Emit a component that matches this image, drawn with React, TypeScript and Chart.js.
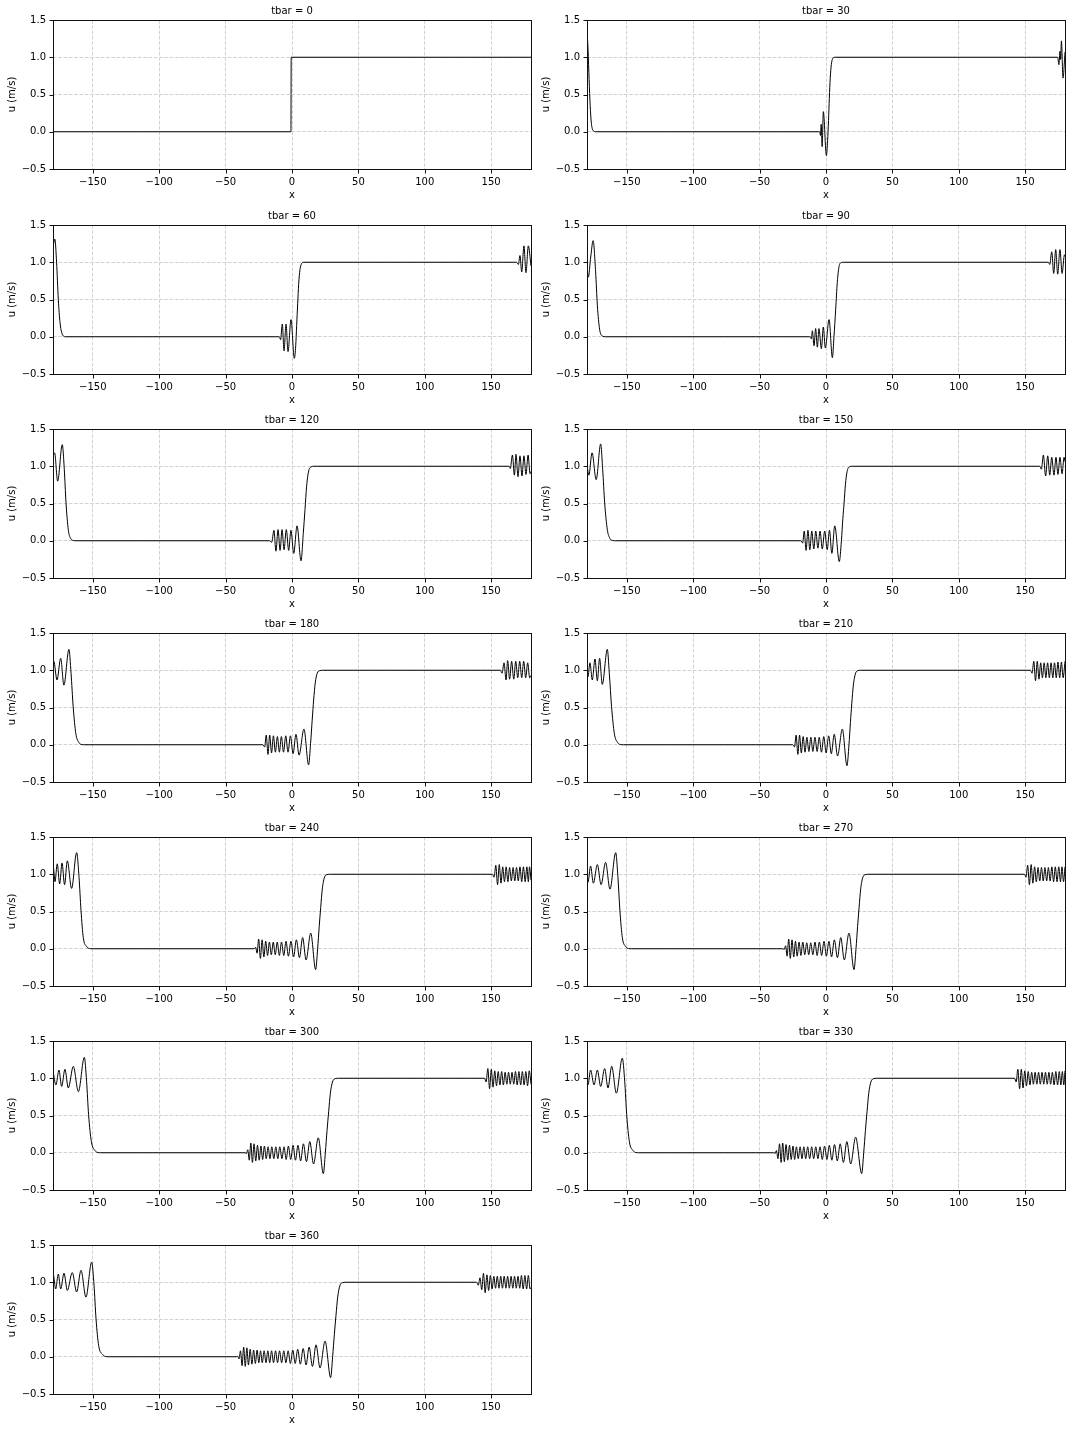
import React, { useEffect, useRef } from "react";
import { Chart, registerables } from "chart.js";

Chart.register(...registerables);

// ---- data ----
const TBARS = [0, 30, 60, 90, 120, 150, 180, 210, 240, 270, 300, 330, 360];
const X_TICKS = [-150, -100, -50, 0, 50, 100, 150];
const Y_TICKS = [-0.5, 0, 0.5, 1, 1.5];
const X_LABEL = "x";
const Y_LABEL = "u (m/s)";

const S000: number[][] = [[-180, 0], [-0.8, 0], [-0.6, 1], [180, 1]];

const S030: number[][] = [
  [-180, 1.36], [-179.2, 1.1], [-178.4, 0.7], [-177.6, 0.35], [-176.8, 0.13], [-176, 0.04], [-175, 0.01], [-173.5, 0],
  [-5.6, 0], [-4.7, 0], [-4.2, -0.05], [-3.6, 0.1], [-2.9, -0.2], [-2.0, 0.27], [0.3, -0.32], [1.2, -0.12], [1.9, 0.15],
  [2.5, 0.45], [3.2, 0.72], [4.0, 0.9], [5.0, 0.98], [6.5, 1],
  [174.5, 1], [175.4, 0.9], [176.2, 1.08], [176.7, 0.97], [177.3, 1.22], [178.5, 0.72], [180, 1.07],
];

const S060: number[][] = [
  [-180, 1.2], [-178.6, 1.31], [-177.3, 1.0], [-176, 0.5], [-174.7, 0.19], [-173.5, 0.06], [-172.2, 0.01], [-170.5, 0],
  [-10, 0], [-9.5, 0], [-8.6, -0.04], [-7.3, 0.17], [-6.0, -0.19], [-4.5, 0.17], [-3.0, -0.2], [-0.75, 0.23], [1.75, -0.29],
  [2.8, -0.12], [3.5, 0.15], [4.3, 0.45], [5.0, 0.7], [6.0, 0.9], [7.2, 0.98], [8.5, 1],
  [169, 1], [170.5, 0.97], [171.7, 1.09], [173.0, 0.87], [174.7, 1.22], [176.2, 0.86], [178.0, 1.22], [180, 0.95],
];

const S090: number[][] = [
  [-180, 0.95], [-179, 0.8], [-177.2, 1.07], [-175.4, 1.29], [-173.5, 0.87], [-172.2, 0.42], [-170.5, 0.1], [-168.5, 0.01], [-166, 0],
  [-12.5, 0], [-11.8, 0], [-11, -0.03], [-10.3, 0.08], [-9.0, -0.12], [-7.8, 0.11], [-6.5, -0.14], [-5.3, 0.11], [-3.5, -0.16],
  [-2.0, 0.13], [-0.5, -0.15], [2.3, 0.23], [4.8, -0.28], [6.0, 0.0], [7.3, 0.37], [8.5, 0.73], [9.8, 0.94], [11.5, 0.995], [13.5, 1],
  [167.5, 1], [168.5, 0.97], [170, 1.14], [171.5, 0.85], [173, 1.17], [174.5, 0.84], [176.2, 1.17], [177.8, 0.85], [179.6, 1.1], [180, 1.08],
];

const S120: number[][] = [
  [-180, 1.12], [-178.8, 1.18], [-176.5, 0.8], [-173, 1.29], [-171.5, 0.96], [-170.2, 0.51], [-168.5, 0.15], [-166.7, 0.03], [-164.5, 0.003], [-162.5, 0],
  [-17, 0], [-15.3, -0.02], [-13.6, 0.14], [-12.1, -0.14], [-10.5, 0.15], [-9.0, -0.13], [-7.5, 0.15], [-6.0, -0.12], [-4.3, 0.15],
  [-2.5, -0.13], [-0.8, 0.14], [1.3, -0.17], [3.8, 0.2], [6.8, -0.27], [8.5, 0.1], [9.8, 0.42], [11.0, 0.73], [12.6, 0.94], [14.3, 0.99], [16.5, 1],
  [163.5, 1], [164.4, 0.97], [166, 1.15], [167.5, 0.88], [168.7, 1.16], [170.2, 0.86], [171.7, 1.14], [173.2, 0.87], [174.7, 1.14],
  [176.2, 0.89], [177.8, 1.15], [179.3, 0.9], [180, 0.93],
];

const S150: number[][] = [
  [-180, 1.02], [-178.6, 0.88], [-176.2, 1.18], [-173.1, 0.82], [-169.7, 1.3], [-168.2, 0.96], [-166.7, 0.51], [-164.7, 0.15], [-162.7, 0.03], [-160.5, 0.003], [-158.5, 0],
  [-19, 0], [-17.6, -0.03], [-16.4, 0.13], [-15.0, -0.13], [-13.6, 0.14], [-12.2, -0.12], [-10.7, 0.13], [-9.2, -0.11], [-7.7, 0.13],
  [-6.1, -0.1], [-4.5, 0.13], [-2.8, -0.11], [-1.0, 0.13], [0.9, -0.12], [2.6, 0.14], [4.4, -0.17], [6.6, 0.2], [10.0, -0.28],
  [11.6, 0.0], [12.7, 0.3], [13.6, 0.5], [14.6, 0.75], [15.9, 0.93], [17.5, 0.99], [19.8, 1],
  [161, 1], [162.2, 0.96], [163.7, 1.15], [165.4, 0.87], [167, 1.14], [168.5, 0.88], [170, 1.12], [171.7, 0.88], [173.2, 1.12],
  [174.7, 0.89], [176.2, 1.12], [177.8, 0.9], [179.3, 1.12], [180, 1.06],
];

const S180: number[][] = [
  [-180, 1.1], [-179.4, 1.12], [-177, 0.87], [-174.2, 1.16], [-171.8, 0.8], [-168, 1.28], [-166.4, 0.96], [-164.8, 0.51], [-162.8, 0.15], [-160.5, 0.03], [-158.3, 0.003], [-156, 0],
  [-22, 0], [-20.6, -0.03], [-19.4, 0.13], [-18.1, -0.13], [-16.8, 0.13], [-15.4, -0.11], [-14.0, 0.12], [-12.5, -0.1], [-11.0, 0.11],
  [-9.5, -0.1], [-8.0, 0.11], [-6.4, -0.1], [-4.7, 0.12], [-3.0, -0.1], [-1.2, 0.12], [0.8, -0.12], [3.0, 0.14], [5.3, -0.14],
  [9.0, 0.21], [12.5, -0.27], [14.0, 0.02], [15.2, 0.33], [16.3, 0.6], [17.5, 0.83], [19.0, 0.96], [21.0, 0.995], [23.5, 1],
  [157, 1], [158.2, 0.96], [159.7, 1.1], [161.2, 0.87], [162.4, 1.13], [163.9, 0.88], [165.4, 1.12], [167, 0.88], [168.5, 1.12],
  [170, 0.9], [171.5, 1.12], [173, 0.9], [174.5, 1.12], [176, 0.9], [177.5, 1.1], [179, 0.9], [180, 0.93],
];

const S210: number[][] = [
  [-180, 0.95], [-179.3, 0.91], [-177.8, 1.1], [-176, 0.87], [-174, 1.15], [-172.2, 0.86], [-170.5, 1.16], [-168.5, 0.81], [-164.7, 1.28],
  [-163.2, 0.96], [-161.5, 0.51], [-159.4, 0.15], [-157, 0.03], [-154.8, 0.003], [-152.5, 0],
  [-25, 0], [-23.7, -0.03], [-22.5, 0.13], [-21.2, -0.13], [-19.9, 0.13], [-18.6, -0.11], [-17.2, 0.11], [-15.8, -0.1], [-14.4, 0.1],
  [-12.9, -0.09], [-11.4, 0.1], [-9.9, -0.09], [-8.3, 0.1], [-6.7, -0.09], [-5.1, 0.1], [-3.4, -0.1], [-1.7, 0.11], [0.1, -0.11],
  [2.0, 0.12], [4.0, -0.12], [6.2, 0.14], [8.7, -0.15], [12.3, 0.21], [15.8, -0.28], [17.3, 0.0], [18.4, 0.3], [19.4, 0.55],
  [20.6, 0.8], [22.1, 0.95], [24.0, 0.995], [26.5, 1],
  [154, 1], [155.2, 0.96], [156.5, 1.12], [157.8, 0.86], [159.1, 1.12], [160.4, 0.88], [161.7, 1.1], [163.0, 0.9], [164.3, 1.1],
  [165.6, 0.9], [166.9, 1.1], [168.2, 0.9], [169.5, 1.1], [170.8, 0.9], [172.1, 1.1], [173.4, 0.9], [174.7, 1.11], [176.0, 0.9],
  [177.3, 1.11], [178.6, 0.9], [180, 1.12],
];

const S240: number[][] = [
  [-180, 1.09], [-179.8, 1.1], [-178.5, 0.9], [-176.8, 1.14], [-175, 0.87], [-173.2, 1.15], [-171.3, 0.86], [-169.2, 1.18], [-166, 0.81],
  [-162.2, 1.29], [-160.4, 0.96], [-158.9, 0.51], [-157.2, 0.15], [-154.7, 0.03], [-152.5, 0.003], [-150.5, 0],
  [-28.5, 0], [-27.4, 0.02], [-26.3, -0.06], [-25.1, 0.13], [-23.8, -0.13], [-22.5, 0.12], [-21.2, -0.11], [-19.8, 0.1], [-18.4, -0.09],
  [-17.0, 0.09], [-15.6, -0.08], [-14.1, 0.09], [-12.6, -0.08], [-11.1, 0.09], [-9.5, -0.09], [-7.9, 0.09], [-6.2, -0.09], [-4.5, 0.1],
  [-2.7, -0.1], [-0.8, 0.1], [1.2, -0.11], [3.3, 0.12], [5.6, -0.12], [8.0, 0.15], [10.6, -0.15], [14.1, 0.21], [17.8, -0.28],
  [19.3, 0.0], [20.5, 0.3], [21.6, 0.55], [22.8, 0.8], [24.3, 0.95], [26.3, 0.995], [29, 1],
  [151, 1], [152.2, 0.96], [153.5, 1.12], [154.8, 0.86], [156.1, 1.13], [157.4, 0.88], [158.7, 1.1], [160.0, 0.9], [161.3, 1.1],
  [162.6, 0.9], [163.9, 1.09], [165.2, 0.91], [166.5, 1.09], [167.8, 0.91], [169.1, 1.09], [170.4, 0.91], [171.7, 1.1], [173.0, 0.9],
  [174.3, 1.1], [175.6, 0.9], [176.9, 1.1], [178.0, 0.9], [178.9, 1.1], [180, 0.92],
];

const S270: number[][] = [
  [-180, 0.93], [-179.3, 0.89], [-177.3, 1.11], [-175.2, 0.88], [-172.2, 1.13], [-169.4, 0.86], [-166, 1.16], [-162.7, 0.8], [-158.4, 1.29],
  [-156.7, 0.96], [-155.2, 0.51], [-153.4, 0.15], [-150.9, 0.03], [-148.7, 0.003], [-146.5, 0],
  [-32.5, 0], [-31.5, -0.01], [-30.4, 0.04], [-29.3, -0.1], [-28.1, 0.13], [-26.9, -0.13], [-25.6, 0.12], [-24.3, -0.11], [-23.0, 0.1],
  [-21.7, -0.1], [-20.3, 0.09], [-18.9, -0.09], [-17.5, 0.09], [-16.0, -0.08], [-14.5, 0.08], [-13.0, -0.08], [-11.5, 0.08], [-9.9, -0.08],
  [-8.3, 0.09], [-6.7, -0.09], [-5.0, 0.09], [-3.3, -0.09], [-1.5, 0.1], [0.3, -0.1], [2.2, 0.1], [4.2, -0.11], [6.3, 0.12], [8.6, -0.12],
  [11.1, 0.15], [13.8, -0.15], [17.3, 0.21], [21.1, -0.28], [22.6, 0.0], [23.8, 0.3], [24.9, 0.55], [26.1, 0.8], [27.6, 0.95], [29.6, 0.995], [32.5, 1],
  [149.5, 1], [150.6, 0.96], [151.9, 1.12], [153.2, 0.86], [154.5, 1.13], [155.8, 0.88], [157.1, 1.1], [158.4, 0.9], [159.7, 1.09],
  [161.0, 0.91], [162.3, 1.09], [163.6, 0.91], [164.9, 1.09], [166.2, 0.91], [167.5, 1.09], [168.8, 0.91], [170.1, 1.1], [171.4, 0.9],
  [172.7, 1.1], [174.0, 0.9], [175.3, 1.1], [176.6, 0.9], [177.7, 1.1], [178.9, 0.9], [180, 1.1],
];

const S300: number[][] = [
  [-180, 1.1], [-177.8, 0.91], [-175.5, 1.11], [-173.5, 0.89], [-171, 1.12], [-168.5, 0.87], [-164.7, 1.16], [-160.9, 0.82], [-156.4, 1.28],
  [-154.7, 0.96], [-153.2, 0.51], [-151.1, 0.15], [-148.4, 0.03], [-146.2, 0.003], [-144, 0],
  [-35.3, 0], [-34.3, -0.01], [-33.3, 0.04], [-32.2, -0.1], [-31.0, 0.13], [-29.8, -0.13], [-28.6, 0.12], [-27.3, -0.11], [-26.0, 0.1],
  [-24.7, -0.1], [-23.4, 0.09], [-22.1, -0.09], [-20.8, 0.09], [-19.4, -0.08], [-18.0, 0.08], [-16.6, -0.08], [-15.2, 0.08], [-13.7, -0.08],
  [-12.2, 0.08], [-10.7, -0.08], [-9.2, 0.08], [-7.6, -0.08], [-6.0, 0.08], [-4.4, -0.09], [-2.7, 0.09], [-1.0, -0.09], [0.8, 0.1],
  [2.6, -0.1], [4.5, 0.1], [6.5, -0.11], [8.6, 0.12], [10.9, -0.12], [13.4, 0.15], [16.2, -0.15], [19.8, 0.2], [23.6, -0.28],
  [25.1, 0.0], [26.4, 0.3], [27.6, 0.55], [28.9, 0.8], [30.5, 0.95], [32.6, 0.995], [35.7, 1],
  [145, 1], [146.2, 0.95], [147.5, 1.13], [148.8, 0.86], [150.1, 1.12], [151.4, 0.88], [152.7, 1.1], [154.0, 0.9], [155.3, 1.09],
  [156.6, 0.91], [157.9, 1.09], [159.2, 0.91], [160.5, 1.08], [161.8, 0.92], [163.1, 1.08], [164.4, 0.92], [165.7, 1.08], [167.0, 0.92],
  [168.3, 1.09], [169.6, 0.91], [170.9, 1.09], [172.2, 0.91], [173.5, 1.09], [174.8, 0.91], [176.1, 1.09], [177.4, 0.9], [178.7, 1.1], [180, 0.92],
];

const S330: number[][] = [
  [-180, 0.95], [-179.3, 0.91], [-177.3, 1.11], [-174.7, 0.91], [-172.2, 1.11], [-169.7, 0.89], [-166.7, 1.13], [-164.2, 0.87], [-161.4, 1.16],
  [-157.9, 0.8], [-153.4, 1.27], [-151.6, 0.96], [-150.1, 0.51], [-148.1, 0.15], [-145.4, 0.03], [-143.2, 0.003], [-141, 0],
  [-39.3, 0], [-38.3, -0.01], [-37.3, 0.03], [-36.2, -0.08], [-35.0, 0.12], [-33.8, -0.13], [-32.6, 0.13], [-31.4, -0.12], [-30.1, 0.11],
  [-28.8, -0.1], [-27.5, 0.1], [-26.2, -0.09], [-24.9, 0.09], [-23.6, -0.09], [-22.3, 0.08], [-20.9, -0.08], [-19.5, 0.08], [-18.1, -0.08],
  [-16.7, 0.08], [-15.3, -0.08], [-13.8, 0.08], [-12.3, -0.08], [-10.8, 0.08], [-9.3, -0.08], [-7.7, 0.08], [-6.1, -0.08], [-4.5, 0.08],
  [-2.8, -0.09], [-1.1, 0.09], [0.7, -0.09], [2.5, 0.1], [4.4, -0.1], [6.4, 0.11], [8.5, -0.11], [10.7, 0.12], [13.1, -0.13], [15.7, 0.15],
  [18.6, -0.15], [22.3, 0.21], [26.9, -0.28], [28.4, 0.0], [29.7, 0.3], [30.9, 0.55], [32.2, 0.8], [33.8, 0.95], [35.9, 0.995], [39, 1],
  [142, 1], [143.2, 0.95], [144.5, 1.12], [145.8, 0.86], [147.1, 1.12], [148.4, 0.87], [149.7, 1.1], [151.0, 0.9], [152.3, 1.09],
  [153.6, 0.91], [154.9, 1.08], [156.2, 0.92], [157.5, 1.08], [158.8, 0.92], [160.1, 1.08], [161.4, 0.92], [162.7, 1.08], [164.0, 0.92],
  [165.3, 1.08], [166.6, 0.92], [167.9, 1.08], [169.2, 0.92], [170.5, 1.08], [171.8, 0.91], [173.1, 1.09], [174.4, 0.91], [175.7, 1.09],
  [176.9, 0.91], [178.0, 1.09], [179.1, 0.91], [180, 1.1],
];

const S360: number[][] = [
  [-180, 1.09], [-179.8, 1.1], [-178, 0.91], [-176, 1.11], [-174.2, 0.91], [-171.7, 1.12], [-169.2, 0.89], [-165.5, 1.13], [-162.2, 0.87],
  [-158.9, 1.16], [-155.2, 0.8], [-150.9, 1.27], [-149.1, 0.96], [-147.6, 0.51], [-145.6, 0.15], [-142.6, 0.03], [-140.4, 0.003], [-138, 0],
  [-42, 0], [-40.9, 0.005], [-39.9, -0.03], [-38.8, 0.08], [-37.6, -0.12], [-36.4, 0.13], [-35.2, -0.13], [-34.0, 0.12], [-32.8, -0.11],
  [-31.5, 0.1], [-30.2, -0.1], [-28.9, 0.09], [-27.6, -0.09], [-26.3, 0.09], [-25.0, -0.08], [-23.7, 0.08], [-22.4, -0.08], [-21.0, 0.08],
  [-19.6, -0.08], [-18.2, 0.08], [-16.8, -0.08], [-15.4, 0.08], [-13.9, -0.08], [-12.4, 0.08], [-10.9, -0.08], [-9.4, 0.08], [-7.8, -0.08],
  [-6.2, 0.08], [-4.6, -0.08], [-2.9, 0.08], [-1.2, -0.09], [0.6, 0.09], [2.4, -0.09], [4.3, 0.1], [6.3, -0.1], [8.4, 0.11], [10.6, -0.11],
  [12.9, 0.13], [15.4, -0.13], [18.1, 0.16], [21.1, -0.15], [24.9, 0.21], [29.1, -0.28], [30.6, 0.0], [31.9, 0.3], [33.1, 0.55],
  [34.4, 0.8], [36.0, 0.95], [38.2, 0.995], [41.5, 1],
  [139, 1], [140.3, 0.96], [141.6, 1.06], [142.9, 0.9], [144.2, 1.12], [145.5, 0.86], [146.8, 1.1], [148.1, 0.89], [149.4, 1.09],
  [150.7, 0.91], [152.0, 1.08], [153.3, 0.92], [154.6, 1.08], [155.9, 0.92], [157.2, 1.08], [158.5, 0.92], [159.8, 1.08], [161.1, 0.92],
  [162.4, 1.08], [163.7, 0.92], [165.0, 1.08], [166.3, 0.92], [167.6, 1.08], [168.9, 0.92], [170.2, 1.08], [171.5, 0.92], [172.8, 1.09],
  [174.1, 0.91], [175.4, 1.09], [176.7, 0.91], [178.0, 1.09], [179.3, 0.91], [180, 0.93],
];

const SERIES = [S000, S030, S060, S090, S120, S150, S180, S210, S240, S270, S300, S330, S360];

// ---- layout ----
const CANVAS_W = 536;
const CANVAS_H = 204;
const COL_LEFT = [0, 534];
const ROW_TOP = [0, 205, 409, 613, 817, 1021, 1225];
const FONT = { family: "'DejaVu Sans', sans-serif", size: 10, weight: "normal" as const };
const GRID_COLOR = "#d2d2d2";

const MINUS = "\u2212";
const fmtX = (v: number) => (v < 0 ? MINUS + Math.abs(v) : String(v));
const fmtY = (v: number) => (v < 0 ? MINUS + Math.abs(v).toFixed(1) : v.toFixed(1));

const framePlugin = {
  id: "frame",
  afterDraw(chart: any) {
    const { ctx, chartArea: a, scales } = chart;
    ctx.save();
    ctx.strokeStyle = "#111";
    ctx.lineWidth = 1;
    ctx.strokeRect(a.left + 0.5, a.top + 0.5, a.right - a.left, a.bottom - a.top);
    ctx.beginPath();
    for (const v of X_TICKS) {
      const px = Math.round(scales.x.getPixelForValue(v)) + 0.5;
      ctx.moveTo(px, a.bottom + 1);
      ctx.lineTo(px, a.bottom + 4.5);
    }
    for (const v of Y_TICKS) {
      const py = Math.round(scales.y.getPixelForValue(v)) + 0.5;
      ctx.moveTo(a.left, py);
      ctx.lineTo(a.left - 3.5, py);
    }
    ctx.stroke();
    ctx.restore();
  },
};

function Panel({ tbar, pts, left, top }: { tbar: number; pts: number[][]; left: number; top: number }) {
  const ref = useRef<HTMLCanvasElement>(null);
  useEffect(() => {
    if (!ref.current) return;
    const chart = new Chart(ref.current, {
      type: "scatter",
      data: {
        datasets: [
          {
            data: pts.map(([x, y]) => ({ x, y })),
            showLine: true,
            borderColor: "#000",
            borderWidth: 1,
            pointRadius: 0,
            pointHoverRadius: 0,
            cubicInterpolationMode: "monotone",
            fill: false,
          },
        ],
      },
      options: {
        animation: false,
        responsive: false,
        maintainAspectRatio: false,
        events: [],
        layout: { padding: { left: 0, right: 5, top: 0, bottom: 0 } },
        plugins: {
          legend: { display: false },
          tooltip: { enabled: false },
          title: {
            display: true,
            text: `tbar = ${tbar}`,
            fullSize: false,
            color: "#000",
            font: FONT,
            padding: { top: 5, bottom: 3 },
          },
        },
        scales: {
          x: {
            type: "linear",
            min: -180,
            max: 180,
            afterBuildTicks: (s: any) => {
              s.ticks = X_TICKS.map((v) => ({ value: v }));
            },
            afterFit: (s: any) => {
              s.height = 35;
            },
            ticks: {
              callback: (v: any) => fmtX(Number(v)),
              color: "#000",
              font: FONT,
              padding: 7,
              maxRotation: 0,
              autoSkip: false,
            },
            grid: { color: GRID_COLOR, lineWidth: 1, drawTicks: false },
            border: { display: false, dash: [3.7, 1.6] },
            title: { display: true, text: X_LABEL, color: "#000", font: FONT, padding: { top: 0, bottom: 3 } },
          },
          y: {
            type: "linear",
            min: -0.5,
            max: 1.5,
            afterBuildTicks: (s: any) => {
              s.ticks = Y_TICKS.map((v) => ({ value: v }));
            },
            afterFit: (s: any) => {
              s.width = 53;
            },
            ticks: {
              callback: (v: any) => fmtY(Number(v)),
              color: "#000",
              font: FONT,
              padding: 7,
              autoSkip: false,
            },
            grid: { color: GRID_COLOR, lineWidth: 1, drawTicks: false },
            border: { display: false, dash: [3.7, 1.6] },
            title: { display: true, text: Y_LABEL, color: "#000", font: FONT, padding: { top: 6, bottom: 0 } },
          },
        },
      } as any,
      plugins: [framePlugin],
    });
    return () => chart.destroy();
  }, [tbar, pts]);
  return (
    <canvas
      ref={ref}
      width={CANVAS_W}
      height={CANVAS_H}
      style={{ position: "absolute", left, top, width: CANVAS_W, height: CANVAS_H }}
    />
  );
}

export default function App() {
  return (
    <div style={{ position: "absolute", left: 0, top: 0, width: 1072, height: 1432, background: "#fff" }}>
      {TBARS.map((t, i) => (
        <Panel key={t} tbar={t} pts={SERIES[i]} left={COL_LEFT[i % 2]} top={ROW_TOP[Math.floor(i / 2)]} />
      ))}
    </div>
  );
}
